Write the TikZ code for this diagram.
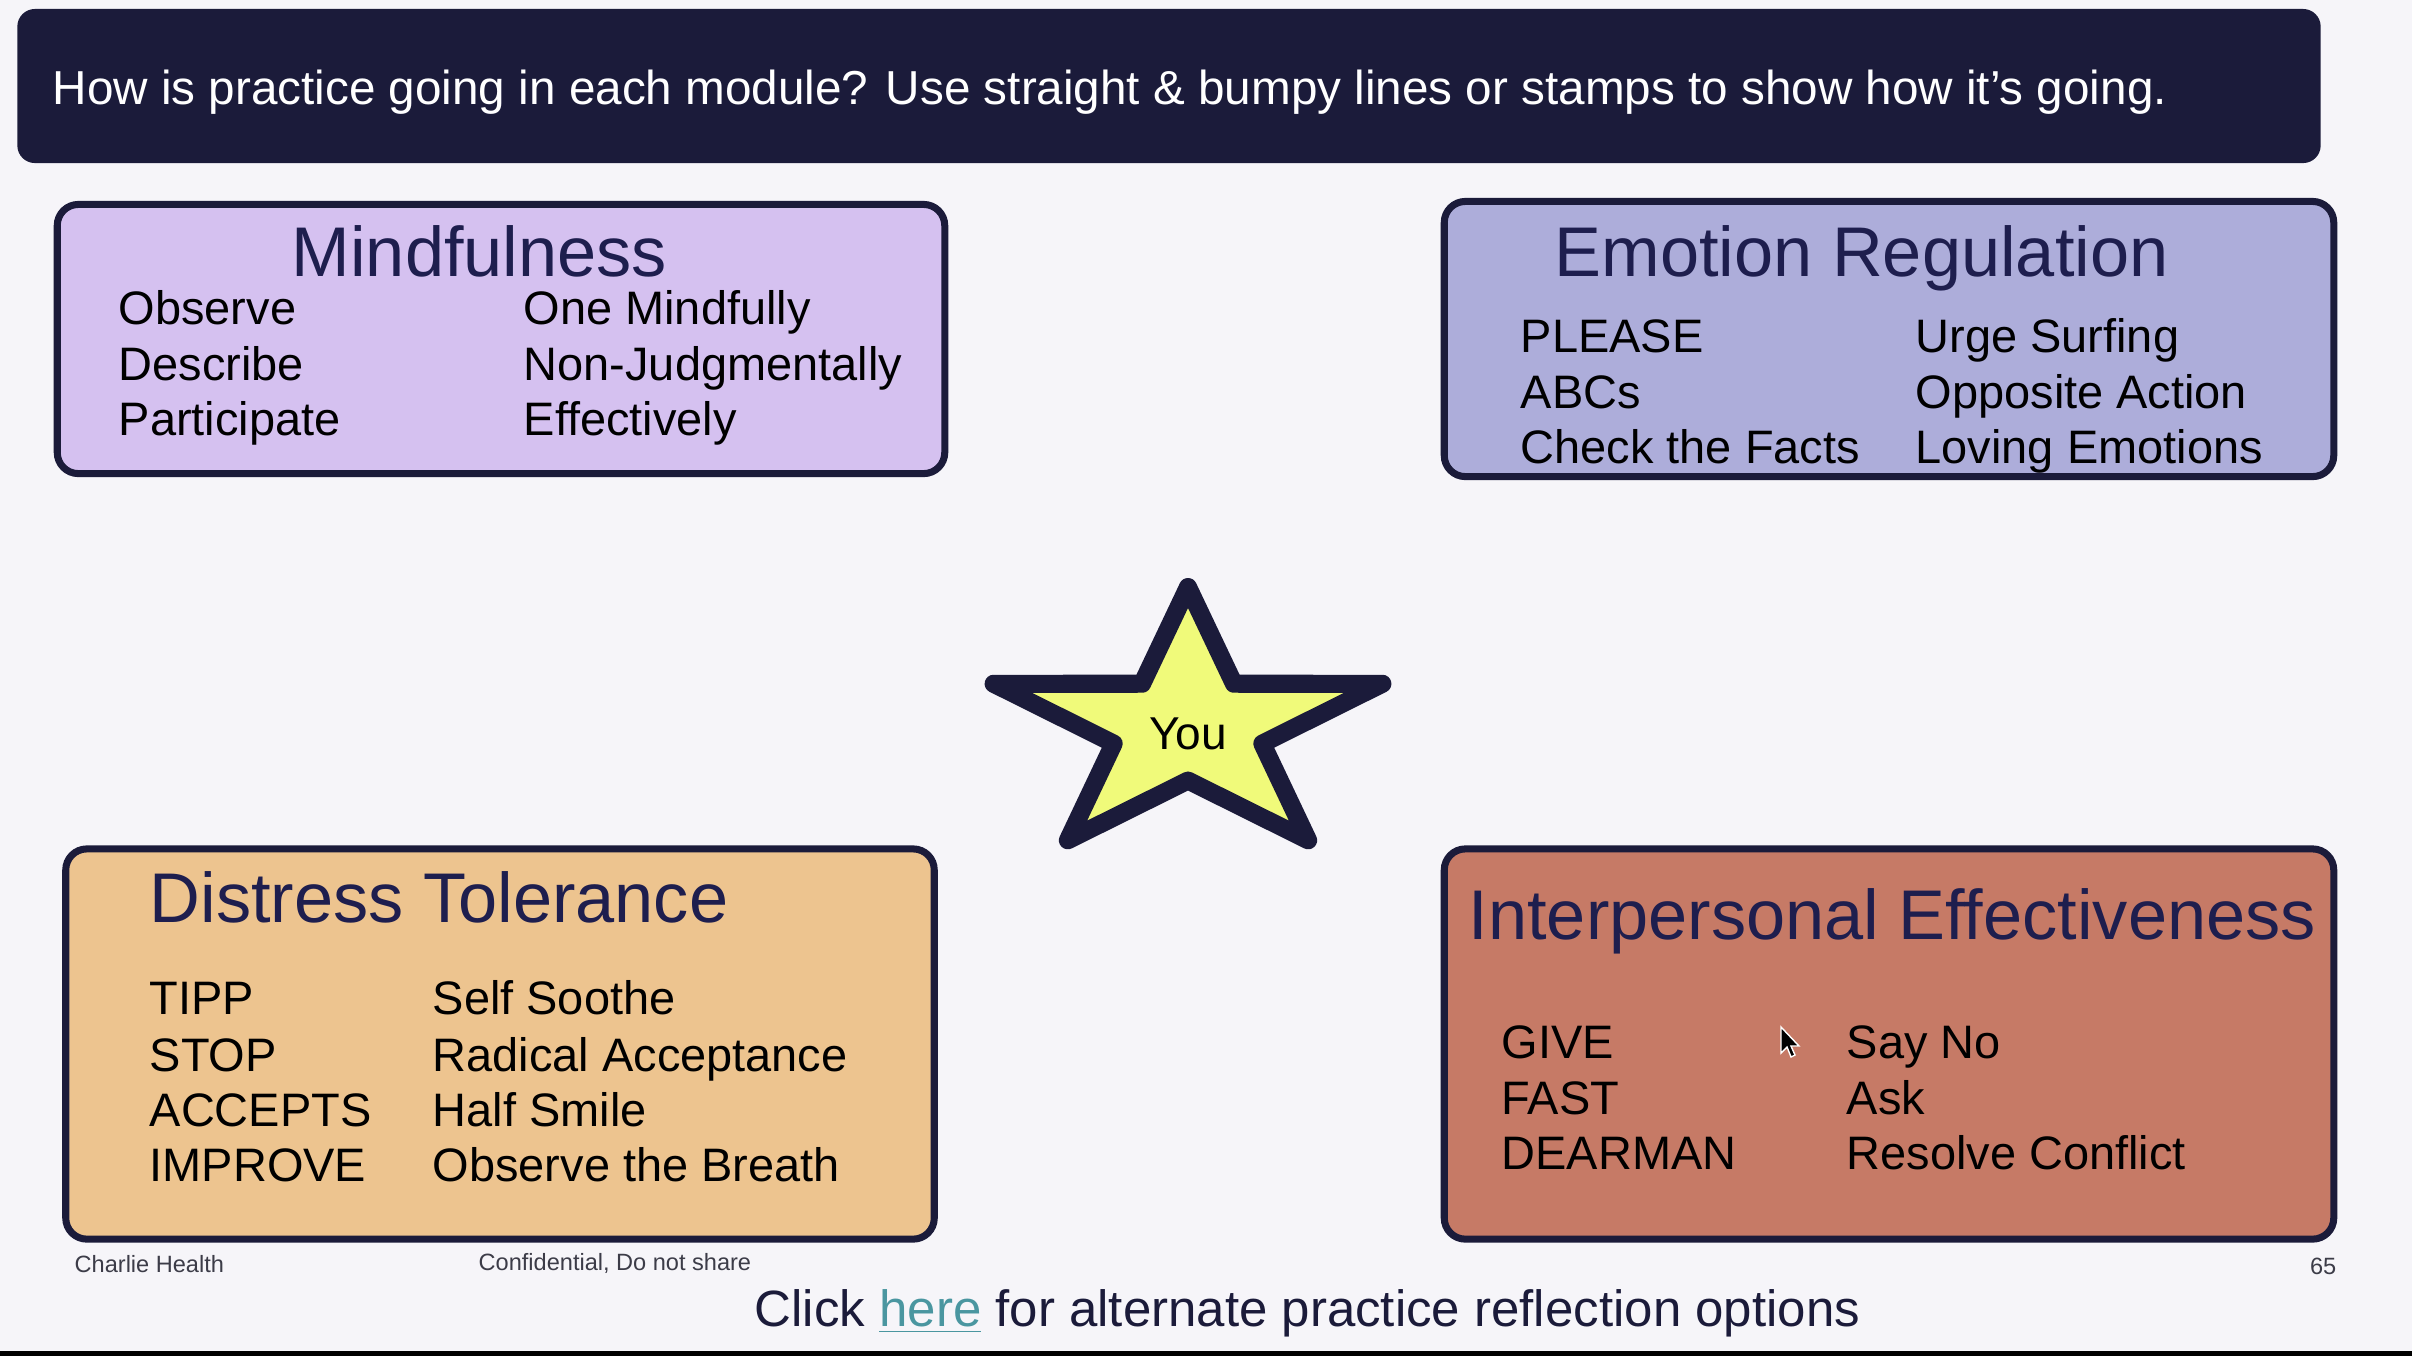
\documentclass[tikz,border=0pt]{standalone}
\usepackage{fontspec}
\setmainfont{Liberation Sans}
\usepackage{tikz}
\usepackage{color}

\definecolor{pagebg}{RGB}{246,245,249}
\definecolor{navy}{RGB}{27,27,58}
\definecolor{titlenavy}{RGB}{30,30,78}
\definecolor{mindfill}{RGB}{213,193,240}
\definecolor{emofill}{RGB}{173,173,218}
\definecolor{distfill}{RGB}{237,196,143}
\definecolor{interfill}{RGB}{198,122,102}
\definecolor{staryellow}{RGB}{240,250,122}
\definecolor{linkteal}{RGB}{74,150,160}
\definecolor{footgray}{RGB}{60,60,72}

\begin{document}
\begin{tikzpicture}[%
      x=0.01cm, y=-0.01cm,
      box/.style={draw=navy, line width=2pt, rounded corners=6pt, inner sep=0pt},
      boxtitle/.style={anchor=base west, inner sep=0pt, text=titlenavy, font=\fontsize{20}{24}\selectfont},
      item/.style={anchor=base west, inner sep=0pt, font=\fontsize{13.35}{16}\selectfont},
      footnote/.style={anchor=base west, inner sep=0pt, text=footgray, font=\fontsize{6.7}{8}\selectfont},
      ]
      \useasboundingbox (0,0) rectangle (2412,1356);
      \fill [pagebg] (0,0) rectangle (2412,1356);
      \fill [black] (0,1351) rectangle (2412,1356);

      % question banner
      \node [fill=navy, rounded corners=5pt, minimum width=23.02cm, minimum height=1.54cm, inner sep=0pt] (banner) at (1169,86) {};
      \node [anchor=base west, inner sep=0pt, text=white, font=\fontsize{13.55}{16}\selectfont] (question) at (52,104) {How is practice going in each module? Use straight \& bumpy lines or stamps to show how it’s going.};

      % module boxes
      \node [box, fill=mindfill, minimum width=8.87cm, minimum height=2.69cm] (mindbox) at (501,339) {};
      \node [box, fill=emofill, minimum width=8.89cm, minimum height=2.75cm] (emobox) at (1889,339) {};
      \node [box, fill=distfill, minimum width=8.68cm, minimum height=3.90cm] (distbox) at (500,1044) {};
      \node [box, fill=interfill, minimum width=8.89cm, minimum height=3.90cm] (interbox) at (1889,1044) {};

      \node [boxtitle] (mindtitle) at (291,276) {Mindfulness};
      \node [item] (mind1) at (118,324) {Observe};
      \node [item] (mind2) at (118,380) {Describe};
      \node [item] (mind3) at (118,435) {Participate};
      \node [item] (mind4) at (523,324) {One Mindfully};
      \node [item] (mind5) at (523,380) {Non-Judgmentally};
      \node [item] (mind6) at (523,435) {Effectively};

      \node [boxtitle] (emotitle) at (1554,276) {Emotion Regulation};
      \node [item] (emo1) at (1520,352) {PLEASE};
      \node [item] (emo2) at (1520,408) {ABCs};
      \node [item] (emo3) at (1520,463) {Check the Facts};
      \node [item] (emo4) at (1915,352) {Urge Surfing};
      \node [item] (emo5) at (1915,408) {Opposite Action};
      \node [item] (emo6) at (1915,463) {Loving Emotions};

      \node [boxtitle] (disttitle) at (149,922) {Distress Tolerance};
      \node [item] (dist1) at (149,1014) {TIPP};
      \node [item] (dist2) at (149,1071) {STOP};
      \node [item] (dist3) at (149,1126) {ACCEPTS};
      \node [item] (dist4) at (149,1181) {IMPROVE};
      \node [item] (dist5) at (432,1014) {Self Soothe};
      \node [item] (dist6) at (432,1071) {Radical Acceptance};
      \node [item] (dist7) at (432,1126) {Half Smile};
      \node [item] (dist8) at (432,1181) {Observe the Breath};

      \node [boxtitle] (intertitle) at (1468,939) {Interpersonal Effectiveness};
      \node [item] (inter1) at (1501,1058) {GIVE};
      \node [item] (inter2) at (1501,1114) {FAST};
      \node [item] (inter3) at (1501,1169) {DEARMAN};
      \node [item] (inter4) at (1846,1058) {Say No};
      \node [item] (inter5) at (1846,1114) {Ask};
      \node [item] (inter6) at (1846,1169) {Resolve Conflict};

      % mouse pointer
      \filldraw [fill=black, draw=white, line width=0.4pt] (1781,1027) -- (1781,1053) -- (1787,1047) -- (1791,1057) -- (1795,1055) -- (1791,1046) -- (1799,1046) -- cycle;

      % star
      \begin{scope}[shift={(1188,727)}, xscale=1.46]
      \draw [line width=0.18cm, draw=navy, fill=staryellow, line join=round]
            (-90:140) -- (-54:53.5) -- (-18:140) -- (18:53.5) -- (54:140) -- (90:53.5)
            -- (126:140) -- (162:53.5) -- (198:140) -- (234:53.5) -- cycle;
      \end{scope}
      \node [inner sep=0pt, font=\fontsize{13.1}{16}\selectfont] (you) at (1188,734) {You};

      % footer
      \node [footnote] (brand) at (74,1272) {Charlie Health};
      \node [footnote] (confidential) at (478,1270) {Confidential, Do not share};
      \node [footnote, anchor=base east] (pagenum) at (2337,1274) {65};
      \node [anchor=base west, inner sep=0pt, text=navy, font=\fontsize{14.5}{17}\selectfont] (click) at (754,1326) {Click \textcolor{linkteal}{\underline{here}} for alternate practice reflection options};
\end{tikzpicture}
\end{document}
